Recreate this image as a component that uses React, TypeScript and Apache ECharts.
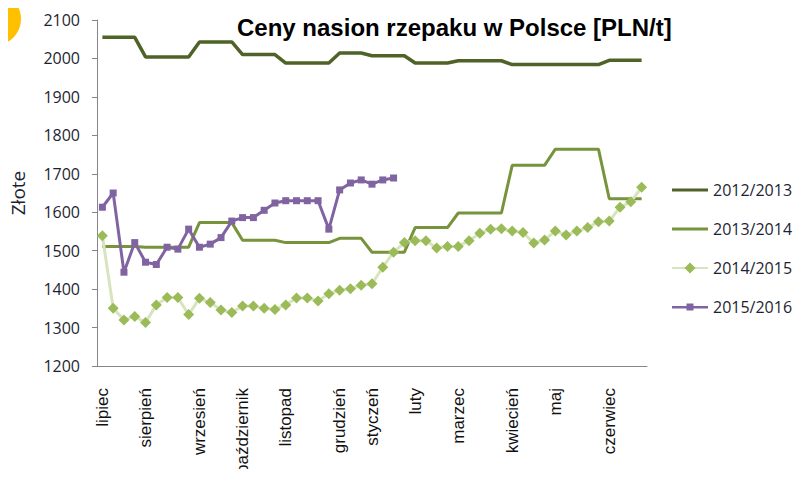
import React, { useEffect, useRef } from "react";
import * as echarts from "echarts";

// Month labels placed at weekly category positions (51 weeks, July–June)
const weekCount = 51;
const monthTicks: [number, string][] = [
  [0, "lipiec"],
  [4, "sierpień"],
  [9, "wrzesień"],
  [13, "październik"],
  [17, "listopad"],
  [22, "grudzień"],
  [25, "styczeń"],
  [29, "luty"],
  [33, "marzec"],
  [38, "kwiecień"],
  [42, "maj"],
  [47, "czerwiec"],
];

const seriesNames = ["2012/2013", "2013/2014", "2014/2015", "2015/2016"];

const s2012 = [
  2055, 2055, 2055, 2055,
  2004, 2004, 2004, 2004, 2004,
  2043, 2043, 2043, 2043,
  2010, 2010, 2010, 2010,
  1988, 1988, 1988, 1988, 1988,
  2014, 2014, 2014,
  2007, 2007, 2007, 2007,
  1988, 1988, 1988, 1988,
  1994, 1994, 1994, 1994, 1994,
  1984, 1984, 1984, 1984, 1984, 1984, 1984, 1984, 1984,
  1995, 1995, 1995, 1995,
];

const s2013 = [
  1511, 1511, 1511, 1511, 1509, 1509, 1509, 1509, 1509,
  1573, 1573, 1573, 1573,
  1527, 1527, 1527, 1527,
  1521, 1521, 1521, 1521, 1521,
  1532, 1532, 1532,
  1496, 1496, 1496, 1496,
  1560, 1560, 1560, 1560,
  1598, 1598, 1598, 1598, 1598,
  1722, 1722, 1722, 1722,
  1764, 1764, 1764, 1764, 1764,
  1635, 1635, 1635, 1635,
];

const s2014 = [
  1539, 1350, 1320, 1329, 1313, 1359, 1378, 1378, 1334, 1376,
  1365, 1346, 1339, 1356, 1356, 1350, 1347, 1359, 1377, 1377,
  1369, 1388, 1397, 1401, 1410, 1414, 1457, 1496, 1521, 1526,
  1526, 1507, 1511, 1511, 1526, 1545, 1556, 1557, 1551, 1547,
  1520, 1528, 1551, 1541, 1551, 1560, 1575, 1577, 1613, 1627,
  1665,
];

const s2015 = [
  1613, 1650, 1444, 1521, 1470, 1464, 1509, 1504, 1556, 1509,
  1517, 1534, 1577, 1586, 1586, 1605, 1624, 1630, 1630, 1630,
  1630, 1556, 1658, 1676, 1684, 1673, 1684, 1689,
];

const yTicks = { min: 1200, max: 2100, step: 100 };

const categories: string[] = Array.from({ length: weekCount }, (_, i) => {
  const m = monthTicks.find((t) => t[0] === i);
  return m ? m[1] : "";
});

const textColor = "#1e1f33";
const axisColor = "#868686";

const lineIcon = "path://M0,0 L36,0 L36,3 L0,3 Z";
const lineSquareIcon =
  "path://M0,2.5 L14.5,2.5 L14.5,0 L21.5,0 L21.5,2.5 L36,2.5 L36,5 L21.5,5 L21.5,7 L14.5,7 L14.5,5 L0,5 Z";

export default function App() {
  const ref = useRef<HTMLDivElement>(null);
  useEffect(() => {
    if (!ref.current) return;
    const chart = echarts.init(ref.current, undefined, { renderer: "svg" });
    chart.setOption({
      animation: false,
      backgroundColor: "#ffffff",
      title: {
        text: "Ceny nasion rzepaku w Polsce [PLN/t]",
        left: 237,
        top: 15,
        padding: 0,
        textStyle: {
          fontFamily: "Liberation Sans",
          fontWeight: "bold",
          fontSize: 24,
          color: "#000000",
        },
      },
      graphic: [
        {
          type: "circle",
          shape: { cx: -5.6, cy: 19, r: 26.6 },
          style: { fill: "#FFC000" },
        },
      ],
      legend: {
        orient: "vertical",
        left: 671,
        top: 180,
        padding: 0,
        itemWidth: 36,
        itemHeight: 14,
        itemGap: 19,
        data: [
          { name: seriesNames[0], icon: lineIcon },
          { name: seriesNames[1], icon: lineIcon },
          { name: seriesNames[2] },
          { name: seriesNames[3], icon: lineSquareIcon },
        ],
        textStyle: {
          fontFamily: "Open Sans",
          fontSize: 16,
          lineHeight: 20,
          color: textColor,
        },
      },
      grid: { left: 97, top: 20, width: 550, height: 350, containLabel: false },
      xAxis: {
        type: "category",
        data: categories,
        boundaryGap: true,
        axisLine: { lineStyle: { color: axisColor, width: 1 } },
        axisTick: { interval: 0, length: 6, lineStyle: { color: axisColor } },
        axisLabel: {
          interval: 0,
          rotate: 90,
          margin: 22,
          fontFamily: "Liberation Sans",
          fontSize: 17,
          color: "#111111",
        },
        splitLine: { show: false },
      },
      yAxis: {
        type: "value",
        min: yTicks.min,
        max: yTicks.max,
        interval: yTicks.step,
        name: "Złote",
        nameLocation: "middle",
        nameRotate: 90,
        nameGap: 70,
        nameTextStyle: {
          fontFamily: "Open Sans",
          fontSize: 19,
          color: textColor,
        },
        axisLine: { show: true, lineStyle: { color: axisColor, width: 1 } },
        axisTick: { show: true, length: 5, lineStyle: { color: axisColor } },
        axisLabel: {
          margin: 17,
          fontFamily: "Open Sans",
          fontSize: 16,
          color: textColor,
          formatter: (v: number) => String(v),
        },
        splitLine: { show: false },
      },
      series: [
        {
          name: seriesNames[0],
          type: "line",
          data: s2012,
          symbol: "none",
          lineStyle: { color: "#4F6228", width: 3.5 },
          itemStyle: { color: "#4F6228", borderWidth: 0 },
        },
        {
          name: seriesNames[1],
          type: "line",
          data: s2013,
          symbol: "none",
          lineStyle: { color: "#77933C", width: 3 },
          itemStyle: { color: "#77933C", borderWidth: 0 },
        },
        {
          name: seriesNames[2],
          type: "line",
          data: s2014,
          symbol: "diamond",
          symbolSize: 11,
          lineStyle: { color: "#D7E4BD", width: 3 },
          itemStyle: { color: "#9BBB59", borderWidth: 0 },
        },
        {
          name: seriesNames[3],
          type: "line",
          data: s2015,
          symbol: "rect",
          symbolSize: 7,
          lineStyle: { color: "#8064A2", width: 3 },
          itemStyle: { color: "#8064A2", borderWidth: 0 },
        },
      ],
    });
    return () => chart.dispose();
  }, []);
  return <div ref={ref} style={{ width: 801, height: 477, margin: -8 }} />;
}
